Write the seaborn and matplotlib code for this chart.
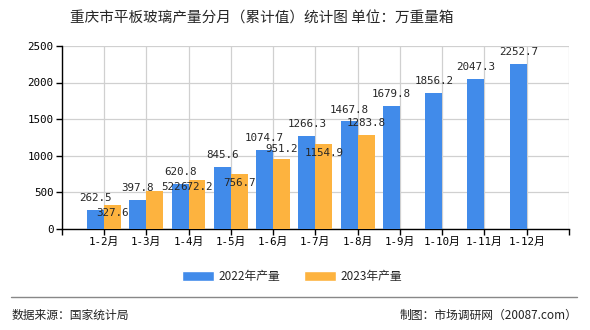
import numpy as np
import pandas as pd
import matplotlib
matplotlib.use("Agg")
import matplotlib.pyplot as plt
import seaborn as sns
from matplotlib.patches import Patch

categories = ["1-2月", "1-3月", "1-4月", "1-5月", "1-6月", "1-7月", "1-8月",
              "1-9月", "1-10月", "1-11月", "1-12月"]
values_2022 = [262.5, 397.8, 620.8, 845.6, 1074.7, 1266.3, 1467.8,
               1679.8, 1856.2, 2047.3, 2252.7]
values_2023 = [327.6, 522, 672.2, 756.7, 951.2, 1154.9, 1283.8]
series_names = ["2022年产量", "2023年产量"]
y_ticks = [0, 500, 1000, 1500, 2000, 2500]

title = "重庆市平板玻璃产量分月（累计值）统计图 单位：万重量箱"
source_text = "数据来源：国家统计局"
credit_text = "制图：市场调研网（20087.com）"

colors = ["#418bea", "#fdb33f"]

rows = []
for i, c in enumerate(categories):
    rows.append({"month": c, "series": series_names[0], "value": values_2022[i]})
    v23 = values_2023[i] if i < len(values_2023) else np.nan
    rows.append({"month": c, "series": series_names[1], "value": v23})
df = pd.DataFrame(rows)

sns.set_theme(style="white")
plt.rcParams["font.family"] = ["Noto Sans CJK SC", "DejaVu Sans"]
mono = ["DejaVu Sans Mono", "Noto Sans CJK SC"]

fig = plt.figure(figsize=(5.9, 3.3), dpi=100)
ax = fig.add_axes([0.1046, 0.306, 0.8597, 0.555])

sns.barplot(data=df, x="month", y="value", hue="series", order=categories,
            hue_order=series_names, palette=colors, width=0.8,
            errorbar=None, saturation=1, ax=ax, zorder=3, legend=False,
            linewidth=0, edgecolor="none")

n = len(categories)
ax.set_xlim(-1, n)
ax.set_ylim(0, 2500)
ax.set_xticks(np.arange(-1, n + 1))
ax.set_xticklabels([""] + categories + [""], fontsize=7.8, family=mono)
ax.set_yticks(y_ticks)
ax.set_yticklabels([str(t) for t in y_ticks], fontsize=7.8, family=mono)
ax.set_xlabel("")
ax.set_ylabel("")

ax.grid(True, axis="both", color="#d0d0d0", linewidth=0.9, zorder=0)
ax.set_axisbelow(True)
for s in ["top", "right"]:
    ax.spines[s].set_visible(False)
for s in ["left", "bottom"]:
    ax.spines[s].set_color("black")
    ax.spines[s].set_linewidth(1.0)
ax.tick_params(axis="both", which="both", direction="out", length=4,
               width=1, color="black", bottom=True, left=True, pad=2,
               labelcolor="black")

# value labels
for i, v in enumerate(values_2022):
    ax.annotate(f"{v:.1f}", (i - 0.2, v),
                xytext=(0, 8.6), textcoords="offset points",
                ha="center", va="center", fontsize=7.8, family=mono, zorder=5)

offsets_2023 = [(0, -5.8), (11.5, 2.9), (0, -5.0), (0, -6.8), (0, 7.2),
                (0, -6.1), (0, 8.6)]
for i, v in enumerate(values_2023):
    txt = f"{v:g}"
    ax.annotate(txt, (i + 0.2, v), xytext=offsets_2023[i],
                textcoords="offset points", ha="center", va="center",
                fontsize=7.8, family=mono, zorder=5)

fig.text(0.443, 0.945, title, ha="center", va="center", fontsize=10.5)

handles = [Patch(facecolor=colors[0]), Patch(facecolor=colors[1])]
fig.legend(handles, series_names, loc="center", bbox_to_anchor=(0.495, 0.163),
           ncol=2, frameon=False, fontsize=8.5, handlelength=2.7,
           handleheight=0.9, handletextpad=0.4, columnspacing=2.0)

line = plt.Line2D([0.018, 0.978], [0.1, 0.1], transform=fig.transFigure,
                  color="#888888", linewidth=1)
fig.add_artist(line)
fig.text(0.02, 0.045, source_text, ha="left", va="center", fontsize=8.5,
         color="#222222")
fig.text(0.978, 0.045, credit_text, ha="right", va="center", fontsize=8.5,
         color="#222222")

fig.savefig("out.png", dpi=100)
